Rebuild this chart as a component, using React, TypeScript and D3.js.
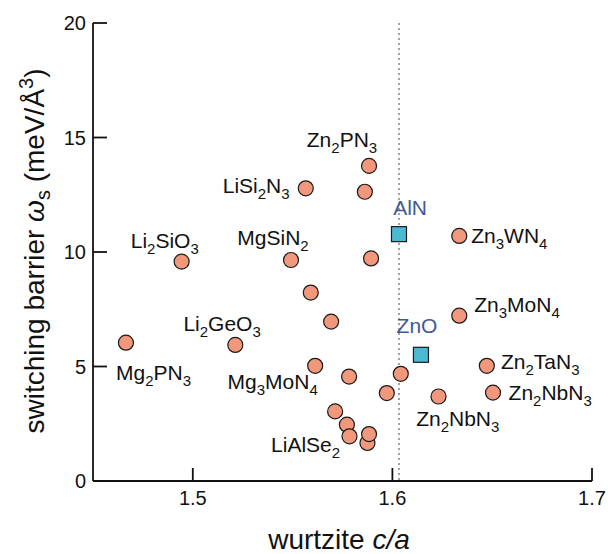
import React from 'react';
import * as d3 from 'd3';

// compounds (orange circles)
const compoundCa = [1.4665, 1.5213, 1.4944, 1.5492, 1.5566, 1.5883, 1.5862, 1.5893, 1.6335, 1.5591, 1.5693, 1.5613, 1.5783, 1.5972, 1.6042, 1.6335, 1.6473, 1.6504, 1.6231, 1.5713, 1.5772, 1.5785, 1.5875, 1.5883];
const compoundBarrier = [6.04, 5.94, 9.58, 9.65, 12.78, 13.76, 12.63, 9.72, 10.7, 8.23, 6.96, 5.03, 4.56, 3.84, 4.68, 7.22, 5.03, 3.86, 3.69, 3.04, 2.46, 1.95, 1.66, 2.05];

// reference wurtzites (blue squares)
const refNames = ['AlN', 'ZnO'];
const refCa = [1.6033, 1.6143];
const refBarrier = [10.78, 5.51];
const refLabelCa = [1.6004, 1.6021];
const refLabelBarrier = [11.61, 6.45];

// compound name annotations ("_n" = subscript)
const labelText = ['Zn_2PN_3', 'LiSi_2N_3', 'Li_2SiO_3', 'MgSiN_2', 'Zn_3WN_4', 'Li_2GeO_3', 'Mg_2PN_3', 'Mg_3MoN_4', 'LiAlSe_2', 'Zn_3MoN_4', 'Zn_2TaN_3', 'Zn_2NbN_3', 'Zn_2NbN_3'];
const labelCa = [1.5571, 1.515, 1.4689, 1.5223, 1.6395, 1.4953, 1.4615, 1.5174, 1.5392, 1.641, 1.6544, 1.6582, 1.6119];
const labelBarrier = [14.59, 12.59, 10.16, 10.31, 10.38, 6.57, 4.42, 4.03, 1.25, 7.37, 4.9, 3.52, 2.38];

const xTicks = [1.5, 1.6, 1.7];
const yTicks = [0, 5, 10, 15, 20];
const dividerCa = 1.6033;

const width = 608;
const height = 554;
const font = '"Liberation Sans", Arial, Helvetica, sans-serif';

const x = d3.scaleLinear().domain([1.45, 1.7]).range([93, 592]);
const y = d3.scaleLinear().domain([0, 20]).range([481, 23]);

function Formula({ text, size, sub }: { text: string; size: number; sub: number }) {
  const parts = text.split(/(_\d)/).filter((p) => p.length);
  let shifted = false;
  return (
    <>
      {parts.map((p, i) => {
        if (p.startsWith('_')) {
          const el = (
            <tspan key={i} fontSize={sub} dy={shifted ? 0 : 6}>
              {p.slice(1)}
            </tspan>
          );
          shifted = true;
          return el;
        }
        const el = (
          <tspan key={i} fontSize={size} dy={shifted ? -6 : 0}>
            {p}
          </tspan>
        );
        shifted = false;
        return el;
      })}
    </>
  );
}

export default function App() {
  const axisColor = '#111';
  const lblSize = 21;
  const subSize = 15;
  return (
    <svg
      width={width}
      height={height}
      style={{ position: 'absolute', left: 0, top: 0, background: '#fff' }}
      fontFamily={font}
    >
      {/* dotted divider */}
      <line
        x1={x(dividerCa)}
        x2={x(dividerCa)}
        y1={y(20)}
        y2={y(0)}
        stroke="#8a8a8a"
        strokeWidth={1.6}
        strokeDasharray="2,3"
      />

      {/* axes */}
      <line x1={x(1.45)} x2={x(1.45)} y1={y(20)} y2={y(0)} stroke={axisColor} strokeWidth={1.8} />
      <line x1={x(1.45)} x2={x(1.7)} y1={y(0)} y2={y(0)} stroke={axisColor} strokeWidth={1.8} />
      {yTicks.map((t) => (
        <g key={'y' + t}>
          <line x1={x(1.45)} x2={x(1.45) + 14} y1={y(t)} y2={y(t)} stroke={axisColor} strokeWidth={1.8} />
          <text x={x(1.45) - 7} y={y(t) + 7} textAnchor="end" fontSize={20} fill="#111">
            {t}
          </text>
        </g>
      ))}
      {xTicks.map((t) => (
        <g key={'x' + t}>
          <line x1={x(t)} x2={x(t)} y1={y(0)} y2={y(0) - 13} stroke={axisColor} strokeWidth={1.8} />
          <text x={x(t)} y={505} textAnchor="middle" fontSize={20} fill="#111">
            {d3.format('.1f')(t)}
          </text>
        </g>
      ))}

      {/* axis titles */}
      <text x={339} y={549} textAnchor="middle" fontSize={28} fill="#111">
        wurtzite <tspan fontStyle="italic">c/a</tspan>
      </text>
      <text transform="translate(44,251) rotate(-90)" textAnchor="middle" fontSize={28} fill="#111">
        switching barrier <tspan fontStyle="italic">ω</tspan>
        <tspan fontSize={20} dy={6}>s</tspan>
        <tspan dy={-6}> (meV/Å</tspan>
        <tspan fontSize={20} dy={-11}>3</tspan>
        <tspan dy={11}>)</tspan>
      </text>

      {/* compound points */}
      {compoundCa.map((c, i) => (
        <circle
          key={'c' + i}
          cx={x(c)}
          cy={y(compoundBarrier[i])}
          r={7.5}
          fill="#f1977b"
          stroke="#1a1a1a"
          strokeWidth={1.2}
        />
      ))}

      {/* reference squares */}
      {refCa.map((c, i) => (
        <rect
          key={'r' + i}
          x={x(c) - 7.5}
          y={y(refBarrier[i]) - 7.5}
          width={15}
          height={15}
          fill="#4cb9d2"
          stroke="#1a1a1a"
          strokeWidth={1.2}
        />
      ))}
      {refNames.map((n, i) => (
        <text key={'rl' + i} x={x(refLabelCa[i])} y={y(refLabelBarrier[i])} fontSize={lblSize} fill="#3f5a94">
          {n}
        </text>
      ))}

      {/* compound labels */}
      {labelText.map((t, i) => (
        <text key={'l' + i} x={x(labelCa[i])} y={y(labelBarrier[i])} fill="#111">
          <Formula text={t} size={lblSize} sub={subSize} />
        </text>
      ))}
    </svg>
  );
}
